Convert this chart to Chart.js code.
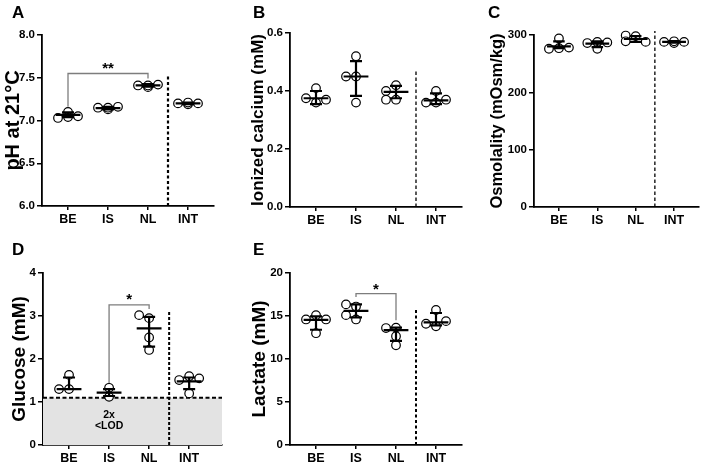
<!DOCTYPE html>
<html>
<head>
<meta charset="utf-8">
<script src="https://cdn.jsdelivr.net/npm/chart.js@4.4.1/dist/chart.umd.min.js"></script>
<style>
  body { margin: 0; background: #fff; width: 708px; height: 464px; position: relative; overflow: hidden; font-family: Arial, "Liberation Sans", sans-serif; }
  .pan { position: absolute; width: 236px; height: 232px; }
  .let { position: absolute; font-weight: bold; font-size: 17px; line-height: 17px; color: #000; }
</style>
</head>
<body>
<div class="pan" style="left:0;top:0"><canvas id="cA"></canvas></div>
<div class="pan" style="left:236px;top:0"><canvas id="cB"></canvas></div>
<div class="pan" style="left:472px;top:0"><canvas id="cC"></canvas></div>
<div class="pan" style="left:0;top:232px"><canvas id="cD"></canvas></div>
<div class="pan" style="left:236px;top:232px"><canvas id="cE"></canvas></div>
<div class="let" style="left:12px;top:4px">A</div>
<div class="let" style="left:253px;top:4px">B</div>
<div class="let" style="left:488px;top:4px">C</div>
<div class="let" style="left:12px;top:241px">D</div>
<div class="let" style="left:253px;top:241px">E</div>
<script>
var groups = ['BE', 'IS', 'NL', 'INT'];

// A - pH at 21 C
var phPoints = [[7.10, 7.03, 7.05, 7.04], [7.13, 7.15, 7.16, 7.15], [7.39, 7.41, 7.42, 7.41], [7.19, 7.20, 7.20, 7.21]];
var phMean = [7.065, 7.145, 7.41, 7.20];
var phLow = [7.04, 7.13, 7.395, 7.19];
var phHigh = [7.095, 7.16, 7.425, 7.21];
var phBracket = [7.16, 7.55, 7.49];

// B - ionized calcium (mM)
var caPoints = [[0.41, 0.36, 0.375, 0.37], [0.52, 0.45, 0.45, 0.36], [0.42, 0.40, 0.37, 0.37], [0.40, 0.36, 0.36, 0.37]];
var caMean = [0.375, 0.45, 0.397, 0.368];
var caLow = [0.355, 0.383, 0.375, 0.355];
var caHigh = [0.40, 0.503, 0.418, 0.392];

// C - osmolality (mOsm/kg)
var osmPoints = [[294, 277, 276, 278], [276, 286, 287, 288], [298, 299, 288, 289], [286, 288, 288, 289]];
var osmMean = [280, 285, 293, 288];
var osmLow = [277, 279, 288, 286.5];
var osmHigh = [289, 289, 298, 289.5];

// D - glucose (mM)
var gluPoints = [[1.63, 1.30, 1.30], [1.33, 1.12], [2.95, 3.02, 2.50, 2.21], [1.60, 1.51, 1.55, 1.20]];
var gluMean = [1.30, 1.22, 2.71, 1.48];
var gluLow = [1.30, 1.14, 2.29, 1.30];
var gluHigh = [1.57, 1.30, 2.98, 1.57];
var gluBracket = [1.40, 3.26, 3.16];
var gluLod = 1.1;

// E - lactate (mM)
var lacPoints = [[15.1, 14.6, 14.6, 13.0], [16.1, 16.35, 14.6, 15.1], [13.65, 13.6, 12.65, 11.6], [15.7, 13.8, 14.1, 14.4]];
var lacMean = [14.55, 15.6, 13.35, 14.25];
var lacLow = [13.4, 14.85, 12.1, 13.9];
var lacHigh = [14.95, 16.35, 13.65, 15.35];
var lacBracket = [17.2, 17.6, 14.5];

var FONT = 'Arial, "Liberation Sans", sans-serif';
Chart.defaults.font.family = FONT;
var XMIN = -0.65;

// spread overlapping dots sideways, at most one slot each side
function swarm(vals, g, pxY, pxX) {
  var placed = [];
  var slots = [0, -1, 1];
  return vals.map(function (v) {
    var py = v * pxY;
    var best = 0, bestGap = -1;
    for (var i = 0; i < slots.length; i++) {
      var px = slots[i] * 10;
      var gap = placed.reduce(function (m, p) { return Math.min(m, Math.hypot(p[0] - px, p[1] - py)); }, 99);
      if (gap >= 7) { best = px; bestGap = gap; break; }
      if (gap > bestGap) { best = px; bestGap = gap; }
    }
    placed.push([best, py]);
    return {x: g + best / pxX, y: v};
  });
}

function seg(out, g, pts) {
  pts.forEach(function (p) { out.push(p); });
  out.push({x: g, y: null});
}

// mean line + SD whiskers with caps
function summary(mean, low, high) {
  var out = [];
  mean.forEach(function (m, g) {
    seg(out, g, [{x: g - 0.31, y: m}, {x: g + 0.31, y: m}]);
    [high[g], low[g]].forEach(function (v) {
      if (v === m) return;
      seg(out, g, [{x: g, y: m}, {x: g, y: v}]);
      seg(out, g, [{x: g - 0.15, y: v}, {x: g + 0.15, y: v}]);
    });
  });
  return out;
}

function makePanel(p) {
  var pxY = (p.bottom - p.top) / (p.yMax - p.yMin);
  var pxX = (p.right - p.axisX) / (p.xMax - XMIN);
  var dots = [];
  p.points.forEach(function (vals, g) { dots = dots.concat(swarm(vals, g, pxY, pxX)); });

  var datasets = [
    {type: 'line', data: summary(p.mean, p.low, p.high), borderColor: '#000', borderWidth: 2.2,
     pointRadius: 0, order: 1, clip: false},
    {type: 'scatter', data: dots, pointRadius: 4.3, pointBorderWidth: 1.2, pointBackgroundColor: '#fff',
     pointBorderColor: '#000', order: 2, clip: false},
    {type: 'line', data: [{x: 2.5, y: p.yMin}, {x: 2.5, y: p.divTop}], borderColor: '#000',
     borderWidth: p.divWidth, borderDash: p.divDash, pointRadius: 0, order: 3, clip: false}
  ];
  if (p.bracket) {
    var b = p.bracket;
    datasets.push({type: 'line', data: [{x: p.bFrom, y: b[0]}, {x: p.bFrom, y: b[1]}, {x: p.bTo, y: b[1]}, {x: p.bTo, y: b[2]}],
      borderColor: '#7d7d7d', borderWidth: 1.3, pointRadius: 0, order: 3, clip: false});
  }
  if (p.lod) {
    datasets.push({type: 'line', data: [{x: XMIN, y: p.lod}, {x: p.xMax, y: p.lod}], fill: 'origin',
      backgroundColor: '#e3e3e3', borderColor: '#000', borderWidth: 2, borderDash: [4, 2.5],
      pointRadius: 0, order: 4});
  }

  var notes = {
    id: 'notes',
    afterDatasetsDraw: function (chart) {
      var ctx = chart.ctx, xs = chart.scales.x, ys = chart.scales.y;
      ctx.save();
      ctx.fillStyle = '#000';
      ctx.textAlign = 'center';
      ctx.textBaseline = 'middle';
      (p.notes || []).forEach(function (n) {
        ctx.font = 'bold ' + n.size + 'px ' + FONT;
        ctx.fillText(n.text, xs.getPixelForValue(n.x), ys.getPixelForValue(n.y) + (n.shift || 0));
      });
      ctx.restore();
    }
  };

  var tickGrid = {drawOnChartArea: false, color: '#000', lineWidth: 1.5};
  return new Chart(document.getElementById(p.id), {
    type: 'scatter',
    data: {datasets: datasets},
    plugins: [notes],
    options: {
      responsive: true,
      maintainAspectRatio: false,
      animation: false,
      layout: {padding: {left: 0, top: p.top - p.ct, right: p.cl + 236 - p.right, bottom: 0}},
      plugins: {legend: {display: false}, tooltip: {enabled: false}},
      scales: {
        x: {
          type: 'linear', min: XMIN, max: p.xMax, z: 1,
          afterBuildTicks: function (s) { s.ticks = groups.map(function (_, i) { return {value: i}; }); },
          afterFit: function (s) { s.height = p.ct + 232 - p.bottom; },
          ticks: {autoSkip: false, maxRotation: 0, padding: 2, color: '#000',
                  font: {size: 12.5, weight: 'bold'},
                  callback: function (v) { return groups[v]; }},
          grid: Object.assign({tickLength: 4}, tickGrid),
          border: {color: '#000', width: 1.8}
        },
        y: {
          min: p.yMin, max: p.yMax, z: 1,
          afterFit: function (s) { s.width = p.axisX - p.cl; },
          ticks: {stepSize: p.step, padding: 2, color: '#000', font: {size: 11.5, weight: 'bold'},
                  callback: function (v) { return v.toFixed(p.dec); }},
          grid: Object.assign({tickLength: 5}, tickGrid),
          border: {color: '#000', width: 1.8},
          title: {display: true, text: p.title, color: '#000',
                  font: {size: p.titleSize, weight: 'bold'}, padding: {top: p.titlePad, bottom: 0}}
        }
      }
    }
  });
}

makePanel({id: 'cA', cl: 0, ct: 0, axisX: 42, top: 35, bottom: 206, right: 214, xMax: 3.65,
  yMin: 6, yMax: 8, step: 0.5, dec: 1, title: 'pH at 21°C', titleSize: 20, titlePad: 1,
  points: phPoints, mean: phMean, low: phLow, high: phHigh,
  divTop: 7.53, divWidth: 2.2, divDash: [3, 2.5],
  bracket: phBracket, bFrom: 0, bTo: 2,
  notes: [{text: '**', x: 1, y: 7.64, size: 15, shift: 3}]});

makePanel({id: 'cB', cl: 236, ct: 0, axisX: 290, top: 33, bottom: 207, right: 462, xMax: 3.65,
  yMin: 0, yMax: 0.6, step: 0.2, dec: 1, title: 'Ionized calcium (mM)', titleSize: 17, titlePad: 11.8,
  points: caPoints, mean: caMean, low: caLow, high: caHigh,
  divTop: 0.467, divWidth: 1.3, divDash: [3.5, 2.5]});

makePanel({id: 'cC', cl: 472, ct: 0, axisX: 534, top: 35, bottom: 207, right: 699, xMax: 3.65,
  yMin: 0, yMax: 300, step: 100, dec: 0, title: 'Osmolality (mOsm/kg)', titleSize: 16.5, titlePad: 15.6,
  points: osmPoints, mean: osmMean, low: osmLow, high: osmHigh,
  divTop: 307, divWidth: 1.3, divDash: [3.5, 2.5]});

makePanel({id: 'cD', cl: 0, ct: 232, axisX: 43, top: 273, bottom: 445, right: 222, xMax: 3.82,
  yMin: 0, yMax: 4, step: 1, dec: 0, title: 'Glucose (mM)', titleSize: 19, titlePad: 8,
  points: gluPoints, mean: gluMean, low: gluLow, high: gluHigh,
  divTop: 3.10, divWidth: 2, divDash: [3, 2],
  bracket: gluBracket, bFrom: 1, bTo: 2, lod: gluLod,
  notes: [{text: '*', x: 1.5, y: 3.45, size: 15, shift: 3},
          {text: '2x', x: 1, y: 0.70, size: 10.5},
          {text: '<LOD', x: 1, y: 0.43, size: 10.5}]});

makePanel({id: 'cE', cl: 236, ct: 232, axisX: 290, top: 273, bottom: 445, right: 462, xMax: 3.65,
  yMin: 0, yMax: 20, step: 5, dec: 0, title: 'Lactate (mM)', titleSize: 19, titlePad: 12.6,
  points: lacPoints, mean: lacMean, low: lacLow, high: lacHigh,
  divTop: 15.7, divWidth: 2, divDash: [3, 2.5],
  bracket: lacBracket, bFrom: 1, bTo: 2,
  notes: [{text: '*', x: 1.5, y: 18.4, size: 15, shift: 3}]});
</script>
</body>
</html>
